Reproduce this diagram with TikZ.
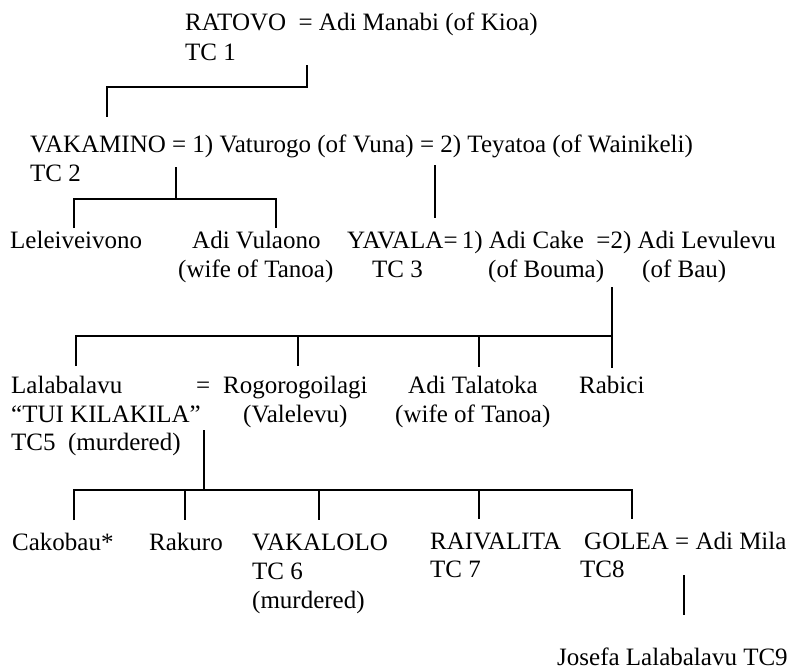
\documentclass[tikz,border=0pt]{standalone}
\usepackage{fontspec}
\setmainfont{Liberation Serif}
\begin{document}
\begin{tikzpicture}[x=1pt,y=-1pt,
  txt/.style={anchor=base west,inner sep=0pt,font=\fontsize{25}{29}\selectfont},
  link/.style={line width=2.8pt,line join=miter}]
\useasboundingbox (0,0) rectangle (789,669);
% generation 1
\node[txt] (ratovo) at (185,31) {RATOVO\ \ = Adi Manabi (of Kioa)};
\node[txt] (tc1) at (185,60) {TC 1};
% generation 2
\node[txt] (vakamino) at (30,152) {VAKAMINO = 1) Vaturogo (of Vuna) = 2) Teyatoa (of Wainikeli)};
\node[txt] (tc2) at (30,181) {TC 2};
% generation 3
\node[txt] (lele) at (10,248) {Leleiveivono};
\node[txt] (vula) at (192,248) {Adi Vulaono};
\node[txt] (vulb) at (178,277) {(wife of Tanoa)};
\node[txt] (yavala) at (347,248) {YAVALA=\,1) Adi Cake\ \ =2) Adi Levulevu};
\node[txt] (tc3) at (372,277) {TC 3};
\node[txt] (bouma) at (488,277) {(of Bouma)};
\node[txt] (bau) at (642,277) {(of Bau)};
% generation 4
\node[txt] (lala) at (11,393) {Lalabalavu};
\node[txt] (eq) at (196,393) {=};
\node[txt] (rogo) at (223,393) {Rogorogoilagi};
\node[txt] (tui) at (11,422) {“TUI KILAKILA”};
\node[txt] (tc5) at (11,450) {TC5\ \ (murdered)};
\node[txt] (vale) at (243,422) {(Valelevu)};
\node[txt] (tala) at (408,393) {Adi Talatoka};
\node[txt] (talb) at (395,422) {(wife of Tanoa)};
\node[txt] (rabici) at (579,393) {Rabici};
% generation 5
\node[txt] (cako) at (12,550) {Cakobau*};
\node[txt] (raku) at (149,550) {Rakuro};
\node[txt] (vkl) at (252,550) {VAKALOLO};
\node[txt] (tc6) at (252,579) {TC 6};
\node[txt] (murd) at (252,608) {(murdered)};
\node[txt] (raiv) at (430,549) {RAIVALITA};
\node[txt] (tc7) at (430,577) {TC 7};
\node[txt] (golea) at (584,549) {GOLEA = Adi Mila};
\node[txt] (tc8) at (580,577) {TC8};
% generation 6
\node[txt] (josefa) at (557,665) {Josefa Lalabalavu TC9};
% junction coordinates
\coordinate (a1) at (307,65);
\coordinate (a2) at (307,87);
\coordinate (a3) at (107,87);
\coordinate (a4) at (107,117);
\coordinate (b1) at (176,167);
\coordinate (b2) at (176,199);
\coordinate (b3) at (74,199);
\coordinate (b4) at (276,199);
\coordinate (b5) at (74,228);
\coordinate (b6) at (276,228);
\coordinate (c1) at (435,165);
\coordinate (c2) at (435,218);
\coordinate (d1) at (612,287);
\coordinate (d2) at (612,336);
\coordinate (d3) at (612,368);
\coordinate (d4) at (76,336);
\coordinate (d5) at (76,366);
\coordinate (d6) at (298,336);
\coordinate (d7) at (298,366);
\coordinate (d8) at (479,336);
\coordinate (d9) at (479,367);
\coordinate (e1) at (204,430);
\coordinate (e2) at (204,490);
\coordinate (e3) at (74,490);
\coordinate (e4) at (74,520);
\coordinate (e5) at (632,490);
\coordinate (e6) at (632,519);
\coordinate (e7) at (185,490);
\coordinate (e8) at (185,520);
\coordinate (e9) at (319,490);
\coordinate (e10) at (319,520);
\coordinate (e11) at (479,490);
\coordinate (e12) at (479,519);
\coordinate (f1) at (684,575);
\coordinate (f2) at (684,615);
% connectors
\draw[link] (a1) -- (a2) -- (a3) -- (a4);
\draw[link] (b1) -- (b2);
\draw[link] (b5) -- (b3) -- (b4) -- (b6);
\draw[link] (c1) -- (c2);
\draw[link] (d1) -- (d3);
\draw[link] (d5) -- (d4) -- (d2);
\draw[link] (d6) -- (d7);
\draw[link] (d8) -- (d9);
\draw[link] (e1) -- (e2);
\draw[link] (e4) -- (e3) -- (e5) -- (e6);
\draw[link] (e7) -- (e8);
\draw[link] (e9) -- (e10);
\draw[link] (e11) -- (e12);
\draw[link] (f1) -- (f2);
\end{tikzpicture}
\end{document}
